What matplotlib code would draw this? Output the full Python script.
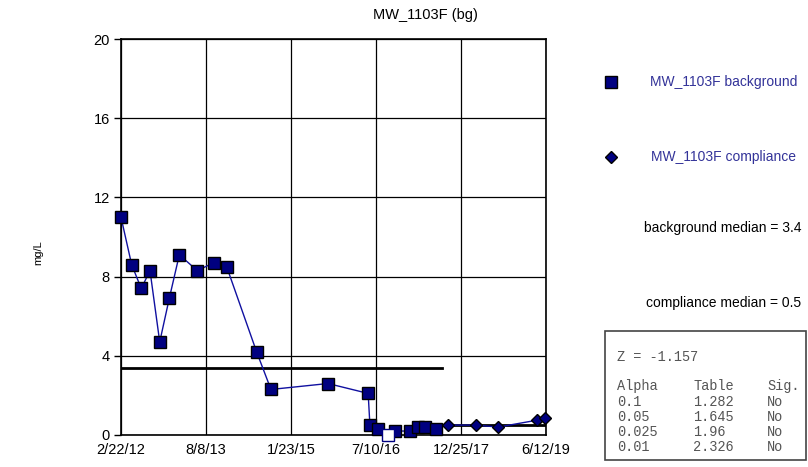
import numpy as np
import pandas as pd
import matplotlib
matplotlib.use('Agg')
import matplotlib.pyplot as plt
from matplotlib.patches import Rectangle

plt.rcParams['font.family'] = ['Liberation Sans', 'DejaVu Sans']

# === Data ===
bg_dates = ['2012-02-22', '2012-04-29', '2012-06-28', '2012-08-22', '2012-10-22',
            '2012-12-21', '2013-02-22', '2013-06-15', '2013-09-25', '2013-12-16',
            '2014-06-22', '2014-09-20', '2015-09-13', '2016-05-22', '2016-06-02',
            '2016-07-22', '2016-09-21', '2016-11-08', '2017-02-08', '2017-04-01',
            '2017-05-13', '2017-07-19']
bg_values = [11.0, 8.6, 7.4, 8.3, 4.7, 6.9, 9.1, 8.3, 8.7, 8.5,
             4.2, 2.3, 2.6, 2.1, 0.5, 0.3, 0.0, 0.2, 0.2, 0.4, 0.4, 0.3]
bg_nondetect = [False] * 16 + [True] + [False] * 5

comp_dates = ['2017-10-06', '2018-03-31', '2018-08-16', '2019-04-18', '2019-06-05']
comp_values = [0.5, 0.5, 0.4, 0.75, 0.87]

bg_median = 3.4
comp_median = 0.5

tick_dates = ['2012-02-22', '2013-08-08', '2015-01-23', '2016-07-10', '2017-12-25', '2019-06-12']
tick_labels = ['2/22/12', '8/8/13', '1/23/15', '7/10/16', '12/25/17', '6/12/19']

z_text = 'Z = -1.157'
alphas = ['0.1', '0.05', '0.025', '0.01']
table_vals = ['1.282', '1.645', '1.96', '2.326']
sig = ['No', 'No', 'No', 'No']

# === Plot ===
navy = '#000080'
line_c = '#1010A0'
text_c = '#333399'

bg_x = pd.to_datetime(bg_dates)
comp_x = pd.to_datetime(comp_dates)
ticks_x = pd.to_datetime(tick_dates)
bg_y = np.array(bg_values)
nd_mask = np.array(bg_nondetect)

fig = plt.figure(figsize=(8.08, 4.67), dpi=100)
ax = fig.add_axes([121 / 808, 1 - 435 / 467, 425 / 808, 396 / 467])

# background series (hollow square = non-detect)
ax.plot(bg_x, bg_y, color=line_c, lw=1, zorder=3)
ax.plot(bg_x[~nd_mask], bg_y[~nd_mask], ls='none', marker='s', ms=8.5,
        mfc=navy, mec='black', mew=1, zorder=4, clip_on=False)
ax.plot(bg_x[nd_mask], bg_y[nd_mask], ls='none', marker='s', ms=8.5,
        mfc='white', mec=navy, mew=1, zorder=4, clip_on=False)

# compliance series
ax.plot(comp_x, comp_values, color=line_c, lw=1, zorder=3)
ax.plot(comp_x, comp_values, ls='none', marker='D', ms=6.5,
        mfc=navy, mec='black', mew=1, zorder=4, clip_on=False)

# median lines, split halfway between last background and first compliance sample
split = bg_x[-1] + (comp_x[0] - bg_x[-1]) / 2
ax.plot([ticks_x[0], split], [bg_median, bg_median], color='black', lw=2, zorder=2)
ax.plot([split, ticks_x[-1]], [comp_median, comp_median], color='black', lw=2, zorder=2)

ax.set_xlim(ticks_x[0], ticks_x[-1])
ax.set_ylim(0, 20)
ax.set_yticks([0, 4, 8, 12, 16, 20])
ax.set_xticks(ticks_x)
ax.set_xticklabels(tick_labels)
ax.grid(True, color='black', lw=0.9)
ax.set_axisbelow(True)
ax.tick_params(axis='y', direction='out', length=5, width=1, labelsize=10.5, pad=3)
ax.tick_params(axis='x', length=0, labelsize=10.5, pad=6)
for s in ax.spines.values():
    s.set_linewidth(1.2)

fig.text(425 / 808, 1 - 15 / 467, 'MW_1103F (bg)', ha='center', va='center', fontsize=10.5)
fig.text(38 / 808, 1 - 253 / 467, 'mg/L', ha='center', va='center', rotation=90, fontsize=8)

# === Side panel in pixel coordinates ===
side = fig.add_axes([0, 0, 1, 1], facecolor='none')
side.set_xlim(0, 808)
side.set_ylim(467, 0)
side.axis('off')

side.plot(611, 82, marker='s', ms=8, mfc=navy, mec='black', mew=1, ls='none')
side.plot(611, 157, marker='D', ms=6, mfc=navy, mec='black', mew=1, ls='none')
side.text(650, 82, 'MW_1103F background', color=text_c, fontsize=10, va='center')
side.text(651, 157, 'MW_1103F compliance', color=text_c, fontsize=10, va='center')
side.text(801, 228, f'background median = {bg_median}', color='black', fontsize=10,
          va='center', ha='right')
side.text(801, 303, f'compliance median = {comp_median}', color='black', fontsize=10,
          va='center', ha='right')

# stats box
side.add_patch(Rectangle((605, 331), 201, 129, fill=False, ec='#444444', lw=1.2))
mono = dict(family=['Liberation Mono', 'DejaVu Sans Mono'], fontsize=9.8,
            color='#555555', va='center')
side.text(617, 357, z_text, **mono)
side.text(617, 386, 'Alpha', **mono)
side.text(693, 386, 'Table', **mono)
side.text(767, 386, 'Sig.', **mono)
for i, (a, t, s) in enumerate(zip(alphas, table_vals, sig)):
    y = 402 + i * 15
    side.text(617, y, a, **mono)
    side.text(693, y, t, **mono)
    side.text(767, y, s, **mono)

fig.savefig('out.png', dpi=100)
